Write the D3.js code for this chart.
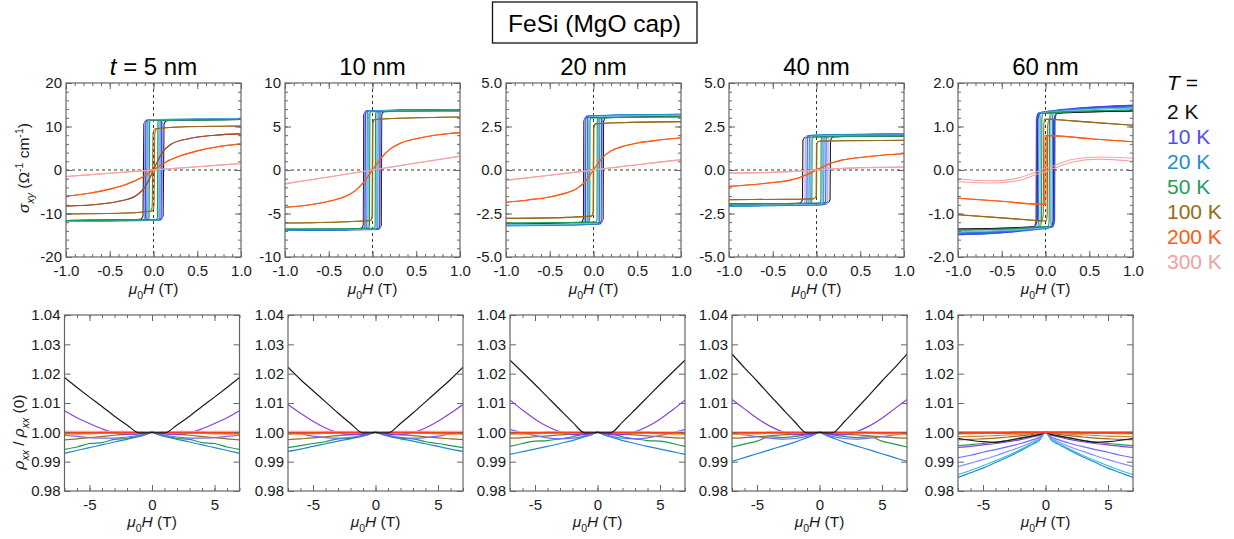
<!DOCTYPE html>
<html><head><meta charset="utf-8">
<script src="https://cdn.jsdelivr.net/npm/d3@7"></script>
<style>
body{margin:0;background:#fff;}
svg{display:block;font-family:"Liberation Sans",Arial,Helvetica,sans-serif;}
</style></head><body>
<svg id="c" width="1234" height="539"></svg>
<script>
// ---------------- DATA ----------------
const thicknesses = ["5 nm","10 nm","20 nm","40 nm","60 nm"];
const hallYMax = [20,10,5,5,2];
const hallYDecimals = [0,0,1,1,1];
const hallXTicks = [-1,-0.5,0,0.5,1];
const mrXTicks = [-5,0,5];
const mrYTicks = [0.98,0.99,1.00,1.01,1.02,1.03,1.04];
const legendTemps = ["2 K","10 K","20 K","50 K","100 K","200 K","300 K"];

// Hall loops: descending branch (H from +1 to -1) of sigma_xy, per temperature
const loops5nm = [
 ["2 K",  [[1,11.6],[0.3,11.5],[-0.08,11.35],[-0.11,10.6],[-0.12,-10.6],[-0.15,-11.35],[-0.4,-11.5],[-1,-11.6]]],
 ["5 K",  [[1,11.7],[0.3,11.6],[-0.085,11.5],[-0.1,11.0],[-0.105,-11.0],[-0.12,-11.5],[-0.4,-11.6],[-1,-11.7]]],
 ["10 K", [[1,11.7],[0.3,11.6],[-0.075,11.5],[-0.088,11.0],[-0.092,-11.0],[-0.105,-11.5],[-0.4,-11.6],[-1,-11.7]]],
 ["20 K", [[1,11.75],[0.3,11.65],[-0.06,11.55],[-0.072,11.0],[-0.076,-11.0],[-0.09,-11.55],[-0.4,-11.65],[-1,-11.75]]],
 ["30 K", [[1,11.7],[0.3,11.6],[-0.05,11.5],[-0.06,11.0],[-0.064,-11.0],[-0.075,-11.5],[-0.4,-11.6],[-1,-11.7]]],
 ["50 K", [[1,11.6],[0.3,11.5],[-0.035,11.4],[-0.045,10.9],[-0.05,-10.9],[-0.06,-11.4],[-0.4,-11.5],[-1,-11.6]]],
 ["100 K",[[1,10.1],[0.3,9.9],[0.02,9.5],[-0.005,8.5],[-0.015,-8.5],[-0.04,-9.5],[-0.3,-9.9],[-1,-10.1]]],
 ["150 K",[[1,8.3],[0.7,8.0],[0.4,7.2],[0.2,5.9],[0.1,4.0],[0.05,2.2],[0,0],[-0.05,-2.2],[-0.1,-4.0],[-0.2,-5.9],[-0.4,-7.2],[-0.7,-8.0],[-1,-8.3]]],
 ["200 K",[[1,6.0],[0.75,5.4],[0.5,4.4],[0.3,3.2],[0.15,1.9],[0.05,0.7],[0,0],[-0.05,-0.7],[-0.15,-1.9],[-0.3,-3.2],[-0.5,-4.4],[-0.75,-5.4],[-1,-6.0]]],
 ["300 K",[[1,1.5],[0.5,0.75],[0,0],[-0.5,-0.75],[-1,-1.5]]]
];
const loops10nm = [
 ["2 K",  [[1,6.9],[0.3,6.82],[-0.08,6.7],[-0.1,6.3],[-0.105,-6.3],[-0.13,-6.7],[-0.3,-6.82],[-1,-6.9]]],
 ["5 K",  [[1,6.92],[0.3,6.85],[-0.075,6.8],[-0.09,6.5],[-0.095,-6.5],[-0.105,-6.8],[-0.3,-6.85],[-1,-6.92]]],
 ["10 K", [[1,6.95],[0.3,6.88],[-0.065,6.82],[-0.08,6.5],[-0.085,-6.5],[-0.095,-6.82],[-0.3,-6.88],[-1,-6.95]]],
 ["20 K", [[1,6.9],[0.3,6.85],[-0.05,6.8],[-0.06,6.5],[-0.065,-6.5],[-0.075,-6.8],[-0.3,-6.85],[-1,-6.9]]],
 ["30 K", [[1,6.85],[0.3,6.8],[-0.035,6.75],[-0.045,6.4],[-0.05,-6.4],[-0.06,-6.75],[-0.3,-6.8],[-1,-6.85]]],
 ["50 K", [[1,6.8],[0.3,6.75],[-0.02,6.7],[-0.03,6.4],[-0.035,-6.4],[-0.045,-6.7],[-0.3,-6.75],[-1,-6.8]]],
 ["100 K",[[1,6.1],[0.3,5.95],[0.02,5.8],[0.0,5.3],[-0.005,-5.3],[-0.025,-5.8],[-0.3,-5.95],[-1,-6.1]]],
 ["200 K",[[1,4.3],[0.75,4.05],[0.5,3.6],[0.3,3.0],[0.2,2.4],[0.1,1.4],[0,0],[-0.1,-1.4],[-0.2,-2.4],[-0.3,-3.0],[-0.5,-3.6],[-0.75,-4.05],[-1,-4.3]]],
 ["300 K",[[1,1.55],[0.5,0.8],[0,0],[-0.5,-0.8],[-1,-1.6]]]
];
const loops20nm = [
 ["2 K",  [[1,3.1],[0.3,3.07],[-0.09,3.0],[-0.11,2.8],[-0.115,-2.8],[-0.14,-3.0],[-0.3,-3.07],[-1,-3.1]]],
 ["5 K",  [[1,3.15],[0.3,3.12],[-0.085,3.08],[-0.1,2.9],[-0.104,-2.9],[-0.115,-3.08],[-0.3,-3.12],[-1,-3.15]]],
 ["10 K", [[1,3.18],[0.3,3.15],[-0.075,3.1],[-0.088,2.9],[-0.092,-2.9],[-0.1,-3.1],[-0.3,-3.15],[-1,-3.18]]],
 ["20 K", [[1,3.2],[0.3,3.16],[-0.058,3.1],[-0.068,2.9],[-0.072,-2.9],[-0.08,-3.1],[-0.3,-3.16],[-1,-3.2]]],
 ["30 K", [[1,3.15],[0.3,3.1],[-0.045,3.05],[-0.055,2.85],[-0.058,-2.85],[-0.066,-3.05],[-0.3,-3.1],[-1,-3.15]]],
 ["50 K", [[1,3.05],[0.3,3.02],[-0.03,2.98],[-0.04,2.8],[-0.043,-2.8],[-0.05,-2.98],[-0.3,-3.02],[-1,-3.05]]],
 ["100 K",[[1,2.78],[0.3,2.72],[0.02,2.65],[0.0,2.4],[-0.005,-2.4],[-0.025,-2.65],[-0.3,-2.72],[-1,-2.78]]],
 ["200 K",[[1,1.85],[0.75,1.72],[0.5,1.55],[0.3,1.3],[0.2,1.1],[0.1,0.7],[0,0],[-0.1,-0.7],[-0.2,-1.1],[-0.3,-1.3],[-0.5,-1.55],[-0.75,-1.72],[-1,-1.85]]],
 ["300 K",[[1,0.58],[0.5,0.3],[0,0],[-0.5,-0.3],[-1,-0.6]]]
];
const loops40nm = [
 ["2 K",  [[1,1.96],[0.3,1.93],[-0.13,1.88],[-0.155,1.7],[-0.16,-1.7],[-0.19,-1.9],[-0.4,-1.93],[-1,-1.96]]],
 ["5 K",  [[1,2.05],[0.3,2.02],[-0.11,1.98],[-0.128,1.8],[-0.132,-1.8],[-0.145,-1.98],[-0.3,-2.02],[-1,-2.05]]],
 ["10 K", [[1,2.05],[0.3,2.02],[-0.09,1.98],[-0.105,1.8],[-0.11,-1.8],[-0.12,-1.98],[-0.3,-2.02],[-1,-2.05]]],
 ["20 K", [[1,2.07],[0.3,2.04],[-0.07,2.0],[-0.082,1.8],[-0.086,-1.8],[-0.095,-2.0],[-0.3,-2.04],[-1,-2.07]]],
 ["30 K", [[1,2.0],[0.3,1.98],[-0.055,1.94],[-0.065,1.75],[-0.068,-1.75],[-0.076,-1.94],[-0.3,-1.98],[-1,-2.0]]],
 ["50 K", [[1,1.95],[0.3,1.93],[-0.04,1.9],[-0.05,1.7],[-0.053,-1.7],[-0.06,-1.9],[-0.3,-1.93],[-1,-1.95]]],
 ["100 K",[[1,1.7],[0.3,1.68],[0.03,1.65],[0.005,1.5],[0,-1.5],[-0.03,-1.65],[-0.3,-1.68],[-1,-1.7]]],
 ["200 K",[[1,0.93],[0.75,0.85],[0.5,0.72],[0.3,0.58],[0.2,0.44],[0.1,0.25],[0,0],[-0.1,-0.25],[-0.2,-0.44],[-0.3,-0.58],[-0.5,-0.72],[-0.75,-0.85],[-1,-0.95]]],
 ["300 K",[[1,0.16],[0.5,0.12],[0.2,0.06],[0,0],[-0.2,-0.07],[-0.5,-0.14],[-1,-0.19]]]
];
const loops60nm = [
 ["2 K",  [[1,1.36],[0.3,1.33],[-0.06,1.3],[-0.09,1.15],[-0.095,-1.15],[-0.13,-1.3],[-0.4,-1.33],[-1,-1.36]]],
 ["10 K", [[1,1.48],[0.4,1.42],[0.1,1.36],[-0.08,1.3],[-0.1,1.15],[-0.105,-1.15],[-0.13,-1.32],[-0.4,-1.41],[-1,-1.48]]],
 ["20 K", [[1,1.45],[0.4,1.4],[-0.06,1.32],[-0.075,1.2],[-0.08,-1.2],[-0.095,-1.32],[-0.4,-1.4],[-1,-1.45]]],
 ["30 K", [[1,1.42],[0.4,1.38],[-0.045,1.31],[-0.058,1.2],[-0.062,-1.2],[-0.075,-1.31],[-0.4,-1.38],[-1,-1.42]]],
 ["50 K", [[1,1.38],[0.4,1.35],[-0.03,1.3],[-0.042,1.15],[-0.046,-1.15],[-0.058,-1.3],[-0.4,-1.35],[-1,-1.38]]],
 ["100 K",[[1,1.03],[0.5,1.1],[0.1,1.16],[-0.01,1.17],[-0.02,1.0],[-0.025,-1.0],[-0.04,-1.17],[-0.1,-1.16],[-0.5,-1.1],[-1,-1.03]]],
 ["200 K",[[1,0.65],[0.5,0.72],[0.05,0.79],[-0.005,0.79],[-0.01,-0.79],[-0.05,-0.79],[-0.5,-0.72],[-1,-0.65]]],
 ["300 K",[[1,0.27],[0.6,0.3],[0.3,0.24],[0.1,0.1],[0,0.04],[-0.1,-0.04],[-0.3,-0.18],[-0.6,-0.25],[-1,-0.2]]]
];

// Magnetoresistance rho_xx(H)/rho_xx(0), at |H| (T) below (symmetric in H)
const mrField = [0,0.5,1,2,3,4,5,6,7];
const mr5nm = [
 ["20 K", [1,0.9992,0.9986,0.9976,0.9967,0.9957,0.9948,0.9938,0.9928]],
 ["50 K", [1,0.9993,0.9989,0.9979,0.9976,0.9965,0.9962,0.9950,0.9942]],
 ["100 K",[1,0.9998,0.9996,0.9993,0.9990,0.9986,0.9982,0.9978,0.9974]],
 ["10 K", [1,0.9995,0.9990,0.9984,0.9980,0.9980,0.9982,0.9986,0.9990]],
 ["5 K",  [1,0.9998,0.9995,0.9993,0.9998,1.0012,1.0030,1.0050,1.0074]],
 ["300 K",[1,1.0001,1.0002,1.0003,1.0003,1.0003,1.0003,1.0003,1.0003]],
 ["250 K",[1,0.9999,0.9999,0.9998,0.9997,0.9996,0.9995,0.9994,0.9993]],
 ["200 K",[1,1.0000,1.0000,0.9999,0.9999,0.9999,0.9998,0.9998,0.9998]],
 ["2 K",  [1,0.9998,0.9998,1.0025,1.0055,1.0088,1.0120,1.0153,1.0187]]
];
const mr10nm = [
 ["20 K", [1,0.9993,0.9987,0.9978,0.9970,0.9961,0.9952,0.9943,0.9935]],
 ["50 K", [1,0.9995,0.9990,0.9980,0.9978,0.9968,0.9962,0.9955,0.9948]],
 ["100 K",[1,0.9998,0.9996,0.9992,0.9989,0.9985,0.9981,0.9978,0.9975]],
 ["10 K", [1,0.9995,0.9990,0.9983,0.9980,0.9982,0.9987,0.9995,1.0003]],
 ["5 K",  [1,0.9997,0.9993,0.9992,0.9999,1.0015,1.0038,1.0065,1.0095]],
 ["300 K",[1,1.0001,1.0002,1.0003,1.0003,1.0003,1.0003,1.0003,1.0003]],
 ["250 K",[1,0.9999,0.9999,0.9998,0.9997,0.9996,0.9995,0.9994,0.9993]],
 ["200 K",[1,1.0000,1.0000,0.9999,0.9999,0.9999,0.9998,0.9998,0.9998]],
 ["2 K",  [1,0.9998,0.9998,1.0030,1.0066,1.0104,1.0142,1.0180,1.0222]]
];
const mr20nm = [
 ["20 K", [1,0.9991,0.9985,0.9972,0.9962,0.9952,0.9943,0.9934,0.9925]],
 ["50 K", [1,0.9997,0.9995,0.9985,0.9978,0.9972,0.9970,0.9962,0.9952]],
 ["100 K",[1,0.9999,0.9997,0.9994,0.9991,0.9988,0.9985,0.9982,0.9980]],
 ["10 K", [1,0.9993,0.9988,0.9980,0.9978,0.9981,0.9989,0.9998,1.0010]],
 ["5 K",  [1,0.9996,0.9992,0.9992,1.0002,1.0020,1.0045,1.0076,1.0110]],
 ["300 K",[1,1.0001,1.0002,1.0002,1.0002,1.0002,1.0002,1.0002,1.0002]],
 ["250 K",[1,0.9999,0.9999,0.9998,0.9997,0.9996,0.9995,0.9994,0.9993]],
 ["200 K",[1,1.0000,1.0000,0.9999,0.9999,0.9999,0.9998,0.9998,0.9998]],
 ["2 K",  [1,0.9998,0.9998,1.0035,1.0077,1.0120,1.0163,1.0205,1.0246]]
];
const mr40nm = [
 ["20 K", [1,0.9990,0.9982,0.9966,0.9953,0.9940,0.9927,0.9914,0.9901]],
 ["50 K", [1,0.9995,0.9992,0.9986,0.9982,0.9985,0.9970,0.9960,0.9950]],
 ["100 K",[1,0.9999,0.9997,0.9994,0.9991,0.9988,0.9985,0.9982,0.9980]],
 ["10 K", [1,0.9992,0.9986,0.9979,0.9977,0.9980,0.9985,0.9991,0.9996]],
 ["5 K",  [1,0.9996,0.9992,0.9992,1.0003,1.0022,1.0048,1.0080,1.0112]],
 ["300 K",[1,1.0001,1.0002,1.0002,1.0002,1.0002,1.0002,1.0002,1.0002]],
 ["250 K",[1,0.9999,0.9999,0.9998,0.9997,0.9996,0.9995,0.9994,0.9993]],
 ["200 K",[1,1.0000,1.0000,0.9999,0.9999,0.9999,0.9998,0.9998,0.9998]],
 ["2 K",  [1,0.9998,0.9998,1.0037,1.0082,1.0128,1.0175,1.0220,1.0267]]
];
const mr60nm = [
 ["20 K", [1,0.9972,0.9960,0.9937,0.9916,0.9897,0.9878,0.9862,0.9846]],
 ["30 K", [1,0.9974,0.9963,0.9941,0.9921,0.9903,0.9886,0.9870,0.9856]],
 ["15 K", [1,0.9978,0.9968,0.9950,0.9935,0.9920,0.9907,0.9895,0.9883]],
 ["10 K", [1,0.9983,0.9975,0.9962,0.9951,0.9941,0.9932,0.9922,0.9914]],
 ["5 K",  [1,0.9990,0.9985,0.9975,0.9968,0.9962,0.9957,0.9952,0.9949]],
 ["50 K", [1,0.9993,0.9988,0.9980,0.9973,0.9967,0.9962,0.9958,0.9955]],
 ["100 K",[1,0.9996,0.9993,0.9988,0.9984,0.9980,0.9978,0.9976,0.9975]],
 ["150 K",[1,0.9998,0.9996,0.9993,0.9991,0.9989,0.9987,0.9986,0.9985]],
 ["2 K",  [1,0.9992,0.9988,0.9980,0.9972,0.9966,0.9968,0.9973,0.9980]],
 ["250 K",[1,0.9999,0.9999,0.9998,0.9997,0.9996,0.9996,0.9995,0.9994]],
 ["300 K",[1,1.0001,1.0001,1.0001,1.0001,1.0001,1.0001,1.0001,1.0001]],
 ["200 K",[1,1.0000,1.0000,1.0000,0.9999,0.9999,0.9999,0.9999,0.9999]]
];

// ---------------- STYLE ----------------
const hallColors = {"2 K":"#1a1a1a","5 K":"#9c9cff","10 K":"#4646f0","20 K":"#1f8ad0","30 K":"#6ab8e6",
  "50 K":"#1c9a58","100 K":"#976a18","150 K":"#a2502c","200 K":"#ff5a14","300 K":"#f5a3a3"};
const mrColors = {"2 K":"#1a1a1a","5 K":"#8a3fe2","10 K":"#6c6cff","15 K":"#7f92ff","20 K":"#2088d2","30 K":"#2fc2d8",
  "50 K":"#1f9a4c","100 K":"#9a6a1e","150 K":"#c08a40","200 K":"#ff3c14","250 K":"#ff8a3a","300 K":"#f6a8a8"};
const legendColors = ["#111111","#4b4bff","#1f8ccc","#1aa05a","#956b14","#ff5a12","#f4a0a0"];

const hallLoops = [loops5nm,loops10nm,loops20nm,loops40nm,loops60nm];
const mrSets = [mr5nm,mr10nm,mr20nm,mr40nm,mr60nm];
const topX = [66,285,506,729,958], topY = 83, PW = 175, PH = 174;
const botX = [64.5,288,510,732,958], botY = 315, BH = 176;
const TXT = "#1a1a1a", AX = "#666";

const svg = d3.select("#c");

function rich(t, parts, fs){
  let shift = 0;
  parts.forEach(p=>{
    const s = t.append("tspan").text(p.t);
    const target = p.sub ? fs*0.32 : (p.sup ? -fs*0.42 : 0);
    const dy = target - shift; shift = target;
    if (dy) s.attr("dy", dy);
    if (p.sub || p.sup) s.attr("font-size", fs*0.68);
    if (p.i) s.attr("font-style","italic");
  });
}

function frame(g, x, y, w, h, xMaj, xMin, yMaj, yMin, xFmt, yFmt){
  const style = a => { a.select(".domain").remove(); a.selectAll("line").attr("stroke",AX).attr("stroke-width",1);
    a.selectAll("text").attr("fill",TXT).attr("font-size",15).attr("font-family",null); a.attr("font-family",null).attr("font-size",null); };
  g.append("g").attr("transform",`translate(0,${h})`).call(d3.axisBottom(x).tickValues(xMin).tickSize(-3).tickFormat("")).call(style);
  g.append("g").attr("transform",`translate(0,${h})`).call(d3.axisBottom(x).tickValues(xMaj).tickSizeInner(-6).tickSizeOuter(0).tickPadding(8).tickFormat(xFmt)).call(style);
  g.append("g").call(d3.axisTop(x).tickValues(xMin).tickSize(-3).tickFormat("")).call(style);
  g.append("g").call(d3.axisTop(x).tickValues(xMaj).tickSize(-6).tickFormat("")).call(style);
  if (yMin) g.append("g").call(d3.axisLeft(y).tickValues(yMin).tickSize(-3).tickFormat("")).call(style);
  g.append("g").call(d3.axisLeft(y).tickValues(yMaj).tickSizeInner(-6).tickSizeOuter(0).tickPadding(4).tickFormat(yFmt)).call(style);
  if (yMin) g.append("g").attr("transform",`translate(${w},0)`).call(d3.axisRight(y).tickValues(yMin).tickSize(-3).tickFormat("")).call(style);
  g.append("g").attr("transform",`translate(${w},0)`).call(d3.axisRight(y).tickValues(yMaj).tickSize(-6).tickFormat("")).call(style);
  g.append("rect").attr("width",w).attr("height",h).attr("fill","none").attr("stroke",AX).attr("stroke-width",1.2);
}

function xTitle(cx, baseY){
  const t = svg.append("text").attr("x",cx).attr("y",baseY).attr("text-anchor","middle").attr("font-size",15.5).attr("fill",TXT);
  rich(t,[{t:"μ",i:1},{t:"0",sub:1},{t:"H",i:1},{t:" (T)"}],15.5);
}

// ---------------- TOP ROW: Hall conductivity ----------------
thicknesses.forEach((th,k)=>{
  const g = svg.append("g").attr("transform",`translate(${topX[k]},${topY})`);
  const ym = hallYMax[k];
  const x = d3.scaleLinear().domain([-1,1]).range([0,PW]);
  const y = d3.scaleLinear().domain([-ym,ym]).range([PH,0]);
  const clipId = "ct"+k;
  g.append("clipPath").attr("id",clipId).append("rect").attr("width",PW).attr("height",PH);
  const dash = g.append("g").attr("stroke","#222").attr("stroke-width",0.9).attr("stroke-dasharray","3,3");
  dash.append("line").attr("x1",x(0)).attr("x2",x(0)).attr("y1",0).attr("y2",PH);
  dash.append("line").attr("x1",0).attr("x2",PW).attr("y1",y(0)).attr("y2",y(0));
  const line = d3.line().x(d=>x(d[0])).y(d=>y(d[1])).curve(d3.curveMonotoneX);
  const cg = g.append("g").attr("clip-path",`url(#${clipId})`);
  hallLoops[k].forEach(([key,pts])=>{
    const down = pts.slice().sort((a,b)=>a[0]-b[0]);
    const up = pts.map(p=>[-p[0],-p[1]]).sort((a,b)=>a[0]-b[0]);
    const sw = (k===4 && (key==="10 K")) ? 1.8 : 1.1;
    [down,up].forEach(b=>cg.append("path").attr("d",line(b)).attr("fill","none")
      .attr("stroke",hallColors[key]).attr("stroke-width",sw).attr("stroke-linejoin","round"));
  });
  const yMaj = d3.range(-2,3).map(i=>i*ym/2);
  const yMin = d3.range(-10,11).map(i=>i*ym/10);
  const xMin = d3.range(-10,11).map(i=>i/10);
  frame(g,x,y,PW,PH,hallXTicks,xMin,yMaj,yMin,d=>d.toFixed(1),d=>d.toFixed(hallYDecimals[k]));
  // panel title
  const t = svg.append("text").attr("x",topX[k]+PW/2).attr("y",75).attr("text-anchor","middle").attr("font-size",24).attr("fill","#000");
  if (k===0) rich(t,[{t:"t",i:1},{t:" = "+th}],24); else t.text(th);
  xTitle(topX[k]+PW/2, 294);
});

// ---------------- BOTTOM ROW: magnetoresistance ----------------
thicknesses.forEach((th,k)=>{
  const g = svg.append("g").attr("transform",`translate(${botX[k]},${botY})`);
  const x = d3.scaleLinear().domain([-7,7]).range([0,PW]);
  const y = d3.scaleLinear().domain([0.98,1.04]).range([BH,0]);
  const clipId = "cb"+k;
  g.append("clipPath").attr("id",clipId).append("rect").attr("width",PW).attr("height",BH);
  const line = d3.line().x(d=>x(d[0])).y(d=>y(d[1])).curve(d3.curveMonotoneX);
  const cg = g.append("g").attr("clip-path",`url(#${clipId})`);
  mrSets[k].forEach(([key,vals])=>{
    const pts = [];
    for (let i=mrField.length-1;i>0;i--) pts.push([-mrField[i],vals[i]]);
    mrField.forEach((h,i)=>pts.push([h,vals[i]]));
    const sw = (key==="200 K") ? (k===4 ? 2.4 : 1.6) : 1.2;
    cg.append("path").attr("d",line(pts)).attr("fill","none").attr("stroke",mrColors[key]).attr("stroke-width",sw);
  });
  frame(g,x,y,PW,BH,mrXTicks,d3.range(-7,8),mrYTicks,null,d=>d.toFixed(0),d=>d.toFixed(2));
  xTitle(botX[k]+PW/2, 527);
});

// ---------------- Y titles ----------------
{
  const t = svg.append("text").attr("transform","translate(29,168) rotate(-90)").attr("text-anchor","middle").attr("font-size",15.5).attr("fill",TXT);
  rich(t,[{t:"σ",i:1},{t:"xy",i:1,sub:1},{t:" (Ω"},{t:"-1",sup:1},{t:" cm"},{t:"-1",sup:1},{t:")"}],15.5);
  const b = svg.append("text").attr("transform","translate(24,432) rotate(-90)").attr("text-anchor","middle").attr("font-size",15.5).attr("fill",TXT);
  rich(b,[{t:"ρ",i:1},{t:"xx",i:1,sub:1},{t:" / "},{t:"ρ",i:1},{t:"xx",i:1,sub:1},{t:" (0)"}],15.5);
}

// ---------------- Title box ----------------
svg.append("rect").attr("x",492.5).attr("y",2).attr("width",204.5).attr("height",41).attr("fill","none").attr("stroke","#111").attr("stroke-width",1.3);
svg.append("text").attr("x",594.5).attr("y",31.5).attr("text-anchor","middle").attr("font-size",24.5).attr("fill","#000").text("FeSi (MgO cap)");

// ---------------- Legend ----------------
{
  const t = svg.append("text").attr("x",1167).attr("y",90).attr("font-size",21).attr("fill","#000");
  rich(t,[{t:"T",i:1},{t:" ="}],21);
  legendTemps.forEach((lab,i)=>{
    svg.append("text").attr("x",1167).attr("y",119+25*i).attr("font-size",21).attr("fill",legendColors[i]).text(lab);
  });
}
</script></body></html>
